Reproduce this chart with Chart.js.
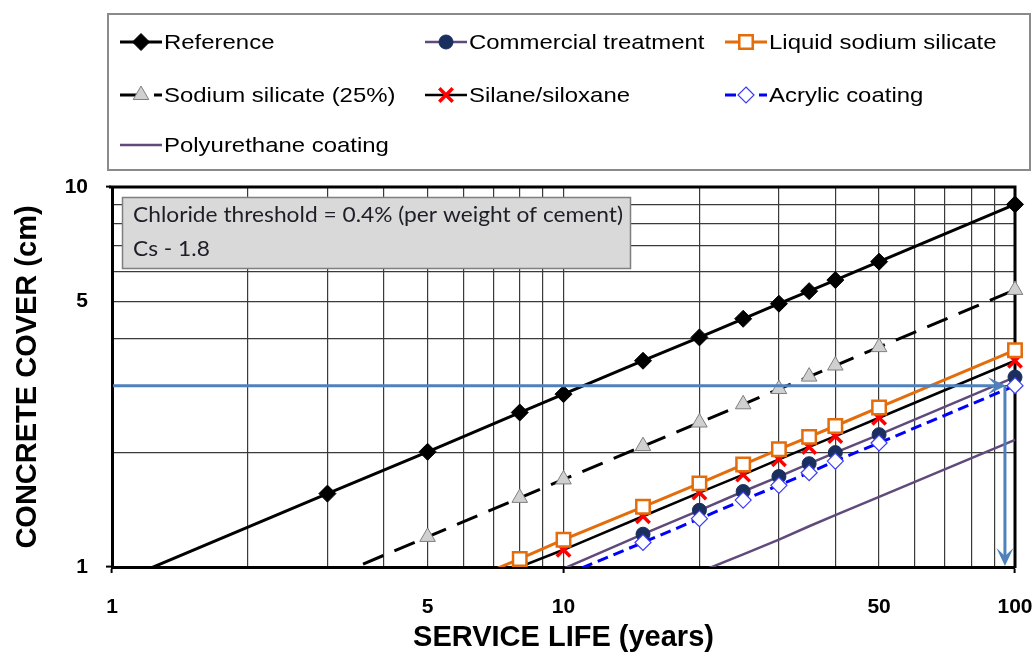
<!DOCTYPE html>
<html>
<head>
<meta charset="utf-8">
<script src="https://cdn.jsdelivr.net/npm/chart.js@4.4.1/dist/chart.umd.min.js"></script>
<style>
html,body{margin:0;padding:0;background:#fff;}
#wrap{width:1036px;height:652px;position:relative;}
</style>
</head>
<body>
<div id="wrap"><canvas id="c" width="1036" height="652"></canvas></div>
<script>
// ---------- data ----------
const years = [1, 3, 5, 8, 10, 15, 20, 25, 30, 35, 40, 50, 100];
const reference      = [0.90, 1.56, 2.01, 2.55, 2.85, 3.49, 4.02, 4.50, 4.93, 5.32, 5.69, 6.36, 9.00];
const commercial     = [0.32, 0.55, 0.71, 0.89, 0.99, 1.22, 1.41, 1.58, 1.73, 1.87, 2.00, 2.23, 3.16];
const liquidSilicate = [0.37, 0.64, 0.83, 1.05, 1.18, 1.44, 1.66, 1.86, 2.04, 2.20, 2.35, 2.63, 3.72];
const sodiumSilicate = [0.54, 0.93, 1.20, 1.52, 1.70, 2.08, 2.40, 2.68, 2.94, 3.17, 3.39, 3.79, 5.36];
const silane         = [0.35, 0.61, 0.79, 1.00, 1.11, 1.36, 1.57, 1.75, 1.92, 2.07, 2.21, 2.47, 3.49];
const acrylic        = [0.30, 0.52, 0.67, 0.85, 0.95, 1.16, 1.34, 1.50, 1.64, 1.77, 1.90, 2.12, 3.00];
const polyurethane   = [0.22, 0.37, 0.48, 0.61, 0.68, 0.84, 0.97, 1.08, 1.18, 1.28, 1.37, 1.53, 2.16];

const xTickValues = [1,2,3,4,5,6,7,8,9,10,20,30,40,50,60,70,80,90,100];
const xTickLabels = [1, 5, 10, 50, 100];
const xMajor = [1, 10, 100];
const yTickValues = [1,2,3,4,5,6,7,8,9,10];
const yTickLabels = [1, 5, 10];
const yMajor = [1, 10];

const seriesNames = ['Reference','Commercial treatment','Liquid sodium silicate','Sodium silicate (25%)','Silane/siloxane','Acrylic coating','Polyurethane coating'];
const noteLines = ['Chloride threshold = 0.4% (per weight of cement)', 'Cs - 1.8'];
const thresholdCover = 3.0;   // cm
const thresholdLife = 95;     // years

const xTitle = 'SERVICE LIFE (years)';
const yTitle = 'CONCRETE COVER (cm)';

// ---------- helpers ----------
const pts = arr => years.map((x, i) => ({x: x, y: arr[i]}));
const ARIAL = "'Liberation Sans', Arial, sans-serif";
const CLIP = {left: 0, top: 12, right: 12, bottom: 0};

const datasets = [
  {label: seriesNames[0], data: pts(reference), borderColor: '#000', borderWidth: 3,
   pointStyle: 'rectRot', pointRadius: 8.5, pointBackgroundColor: '#000', pointBorderColor: '#000', pointBorderWidth: 1, order: 5},
  {label: seriesNames[1], data: pts(commercial), borderColor: '#604A7B', borderWidth: 2.5,
   pointStyle: 'circle', pointRadius: 7, pointBackgroundColor: '#1B2F5E', pointBorderColor: '#1B2F5E', pointBorderWidth: 1, order: 4},
  {label: seriesNames[2], data: pts(liquidSilicate), borderColor: '#E46C0A', borderWidth: 3,
   pointStyle: 'rect', pointRadius: 9.5, pointBackgroundColor: '#fff', pointBorderColor: '#E46C0A', pointBorderWidth: 2.5, order: 1},
  {label: seriesNames[3], data: pts(sodiumSilicate), borderColor: '#000', borderWidth: 3, borderDash: [22, 12],
   pointStyle: 'triangle', pointRadius: 9, pointBackgroundColor: '#D0D0D0', pointBorderColor: '#7F7F7F', pointBorderWidth: 1, order: 6},
  {label: seriesNames[4], data: pts(silane), borderColor: '#000', borderWidth: 2.5,
   pointStyle: 'crossRot', pointRadius: 9.5, pointBackgroundColor: '#FF0000', pointBorderColor: '#FF0000', pointBorderWidth: 3.5, order: 3},
  {label: seriesNames[5], data: pts(acrylic), borderColor: '#0000FF', borderWidth: 3, borderDash: [11, 6],
   pointStyle: 'rectRot', pointRadius: 8, pointBackgroundColor: '#fff', pointBorderColor: '#3A3AFF', pointBorderWidth: 1.2, order: 2},
  {label: seriesNames[6], data: pts(polyurethane), borderColor: '#604A7B', borderWidth: 2.5,
   pointRadius: 0, order: 7}
];
datasets.forEach(d => {
  const r = d.pointRadius;
  d.legendRadius = r;
  // like the original, markers of points below the axis minimum are not plotted
  d.pointRadius = c => (c.raw && c.raw.y < 1) ? 0 : r;
  d.pointHoverRadius = d.pointRadius;
  d.tension = 0; d.fill = false; d.clip = CLIP;
});

// marker drawing for the custom legend
function drawMarker(ctx, ds, x, y) {
  const r = ds.legendRadius || 0;
  if (!r) return;
  ctx.save();
  ctx.fillStyle = ds.pointBackgroundColor;
  ctx.strokeStyle = ds.pointBorderColor;
  ctx.lineWidth = ds.pointBorderWidth;
  ctx.setLineDash([]);
  ctx.beginPath();
  switch (ds.pointStyle) {
    case 'rectRot':
      ctx.moveTo(x, y - r); ctx.lineTo(x + r, y); ctx.lineTo(x, y + r); ctx.lineTo(x - r, y); ctx.closePath();
      ctx.fill(); ctx.stroke(); break;
    case 'circle':
      ctx.arc(x, y, r, 0, Math.PI * 2); ctx.fill(); ctx.stroke(); break;
    case 'rect': {
      const s = r * Math.SQRT1_2;
      ctx.rect(x - s, y - s, 2 * s, 2 * s); ctx.fill(); ctx.stroke(); break; }
    case 'triangle': {
      for (let k = 0; k < 3; k++) {
        const a = k * 2 * Math.PI / 3;
        const px = x + Math.sin(a) * r, py = y - Math.cos(a) * r;
        k ? ctx.lineTo(px, py) : ctx.moveTo(px, py);
      }
      ctx.closePath(); ctx.fill(); ctx.stroke(); break; }
    case 'crossRot': {
      const s = r * Math.SQRT1_2;
      ctx.moveTo(x - s, y - s); ctx.lineTo(x + s, y + s);
      ctx.moveTo(x + s, y - s); ctx.lineTo(x - s, y + s);
      ctx.stroke(); break; }
  }
  ctx.restore();
}

function arrowHead(ctx, tx, ty, dx, dy) {
  const len = 18, half = 8.5;
  const px = -dy, py = dx;
  ctx.beginPath();
  ctx.moveTo(tx, ty);
  ctx.lineTo(tx - dx * len + px * half, ty - dy * len + py * half);
  ctx.lineTo(tx - dx * len * 0.55, ty - dy * len * 0.55);
  ctx.lineTo(tx - dx * len - px * half, ty - dy * len - py * half);
  ctx.closePath();
  ctx.fill();
}

const decor = {
  id: 'decor',
  beforeDatasetsDraw(chart) {
    const {ctx, chartArea: a} = chart;
    ctx.save();
    ctx.strokeStyle = '#000';
    ctx.lineWidth = 3;
    ctx.beginPath();
    ctx.moveTo(a.left - 3, a.top);
    ctx.lineTo(a.right, a.top);
    ctx.lineTo(a.right, a.bottom + 1);
    ctx.stroke();
    ctx.restore();
  },
  afterDatasetsDraw(chart) {
    const {ctx, chartArea: a, scales} = chart;
    // threshold arrows
    const yPix = scales.y.getPixelForValue(thresholdCover);
    const xPix = scales.x.getPixelForValue(thresholdLife);
    ctx.save();
    ctx.strokeStyle = '#4F81BD';
    ctx.fillStyle = '#4F81BD';
    ctx.lineWidth = 3;
    ctx.beginPath();
    ctx.moveTo(a.left + 1, yPix); ctx.lineTo(xPix - 6, yPix);
    ctx.stroke();
    arrowHead(ctx, xPix + 1, yPix, 1, 0);
    ctx.beginPath();
    ctx.moveTo(xPix, yPix); ctx.lineTo(xPix, a.bottom - 8);
    ctx.stroke();
    arrowHead(ctx, xPix, a.bottom - 1, 0, 1);
    ctx.restore();

    // note box
    ctx.save();
    const bx = a.left + 10, by = a.top + 10, bw = 508, bh = 71;
    ctx.fillStyle = '#D9D9D9';
    ctx.fillRect(bx, by, bw, bh);
    ctx.strokeStyle = '#7F7F7F';
    ctx.lineWidth = 1.5;
    ctx.strokeRect(bx + 0.5, by + 0.5, bw, bh);
    ctx.fillStyle = '#1E1E28';
    ctx.font = "22px Lato, 'Open Sans', sans-serif";
    ctx.textBaseline = 'middle';
    ctx.textAlign = 'left';
    const w = ctx.measureText(noteLines[0]).width;
    const sx = 490 / w;
    noteLines.forEach((t, i) => {
      ctx.save();
      ctx.translate(bx + 11, by + 18 + i * 34);
      ctx.scale(sx, 1);
      ctx.fillText(t, 0, 0);
      ctx.restore();
    });
    ctx.restore();
  },
  afterDraw(chart) {
    const {ctx} = chart;
    ctx.save();
    ctx.strokeStyle = '#8A8A8A';
    ctx.lineWidth = 2;
    ctx.strokeRect(108, 14, 922, 156);
    const cols = [120, 425, 725];
    const rows = [42, 95, 145];
    chart.data.datasets.forEach((ds, k) => {
      const x0 = cols[k % 3], y0 = rows[Math.floor(k / 3)];
      ctx.save();
      ctx.strokeStyle = ds.borderColor;
      ctx.lineWidth = ds.borderWidth;
      ctx.setLineDash(ds.borderDash || []);
      ctx.beginPath();
      ctx.moveTo(x0, y0); ctx.lineTo(x0 + 42, y0);
      ctx.stroke();
      ctx.restore();
      drawMarker(ctx, ds, x0 + 21, y0);
      ctx.save();
      ctx.fillStyle = '#000';
      ctx.font = '21px ' + ARIAL;
      ctx.textBaseline = 'middle';
      ctx.textAlign = 'left';
      ctx.translate(x0 + 44, y0 + 1);
      ctx.scale(1.14, 1);
      ctx.fillText(ds.label, 0, 0);
      ctx.restore();
    });
    ctx.restore();
  }
};

new Chart(document.getElementById('c'), {
  type: 'line',
  data: {datasets: datasets},
  plugins: [decor],
  options: {
    responsive: false,
    animation: false,
    devicePixelRatio: 1,
    parsing: true,
    layout: {padding: {top: 187, right: 21, left: 0, bottom: 0}},
    plugins: {legend: {display: false}, tooltip: {enabled: false}},
    scales: {
      x: {
        type: 'logarithmic', min: 1, max: 100,
        afterBuildTicks: s => { s.ticks = xTickValues.map(v => ({value: v})); },
        afterFit: s => { s.height = 85; s.paddingLeft = 0; s.paddingRight = 0; },
        ticks: {
          autoSkip: false, maxRotation: 0, padding: 22, color: '#000',
          font: {family: ARIAL, weight: 'bold', size: 21},
          callback: v => xTickLabels.includes(v) ? String(v) : ''
        },
        grid: {
          color: '#3A3A3A', lineWidth: 1.2, tickLength: 6, tickWidth: 2,
          tickColor: c => (c.tick && xMajor.includes(c.tick.value)) ? '#000' : 'rgba(0,0,0,0)'
        },
        border: {display: true, color: '#000', width: 3},
        title: {display: true, text: xTitle, color: '#000',
                font: {family: ARIAL, weight: 'bold', size: 29, lineHeight: 1}, padding: {top: 0, bottom: 0}}
      },
      y: {
        type: 'logarithmic', min: 1, max: 10,
        afterBuildTicks: s => { s.ticks = yTickValues.map(v => ({value: v})); },
        afterFit: s => { s.width = 112; },
        ticks: {
          autoSkip: false, padding: 18, color: '#000',
          font: {family: ARIAL, weight: 'bold', size: 21},
          callback: v => yTickLabels.includes(v) ? String(v) : ''
        },
        grid: {
          color: '#3A3A3A', lineWidth: 1.2, tickLength: 6, tickWidth: 2,
          tickColor: c => (c.tick && yMajor.includes(c.tick.value)) ? '#000' : 'rgba(0,0,0,0)'
        },
        border: {display: true, color: '#000', width: 3},
        title: {display: true, text: yTitle, color: '#000',
                font: {family: ARIAL, weight: 'bold', size: 29}, padding: {top: 11, bottom: 0}}
      }
    }
  }
});
</script>
</body>
</html>
